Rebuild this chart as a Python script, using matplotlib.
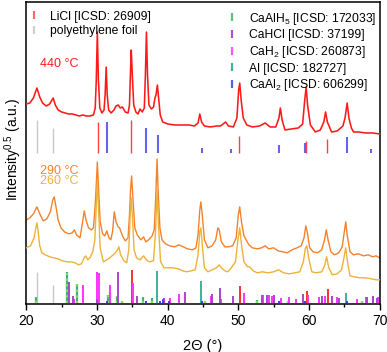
import matplotlib
matplotlib.use("Agg")
import matplotlib.pyplot as plt
from matplotlib.lines import Line2D

plt.rcParams['font.family'] = ['Liberation Sans', 'DejaVu Sans']
plt.rcParams['mathtext.fontset'] = 'custom'
plt.rcParams['mathtext.rm'] = 'Liberation Sans'
plt.rcParams['mathtext.it'] = 'Liberation Sans:italic'
plt.rcParams['mathtext.bf'] = 'Liberation Sans:bold'
plt.rcParams['mathtext.default'] = 'regular'

# ---------------- data ----------------
# 440 °C trace (2θ, intensity in arbitrary units)
tt_440 = [20.0, 20.5, 21.0, 21.5, 21.9, 22.3, 22.8, 23.3, 23.8, 24.1, 24.5, 25.0, 25.5, 26.0, 26.5,
          27.0, 27.5, 28.0, 28.5, 29.0, 29.5, 29.75, 29.9, 30.05, 30.2, 30.4, 30.7, 31.0, 31.15, 31.3,
          31.45, 31.65, 32.0, 32.4, 32.7, 33.0, 33.3, 33.6, 34.0, 34.4, 34.6, 34.75, 34.85, 35.0, 35.2,
          35.5, 35.8, 36.1, 36.4, 36.7, 36.85, 37.0, 37.15, 37.35, 37.7, 38.0, 38.2, 38.35, 38.55, 38.75,
          38.95, 39.3, 40.0, 41.0, 42.0, 43.0, 43.8, 44.3, 44.55, 44.8, 45.2, 46.0, 47.0, 47.5, 48.2,
          48.6, 49.3, 49.8, 50.05, 50.2, 50.4, 50.7, 51.2, 52.0, 53.0, 53.8, 54.5, 55.3, 55.75, 55.95,
          56.2, 56.6, 57.5, 58.5, 59.1, 59.4, 59.6, 59.8, 60.2, 60.9, 61.6, 62.1, 62.35, 62.6, 63.2,
          64.0, 64.8, 65.1, 65.4, 65.65, 66.0, 66.3, 67.0, 68.0, 69.0, 70.0]
py_440 = [104, 103, 98, 88, 97, 103, 106, 104, 98, 105, 110, 112, 113, 114, 114,
          115, 116, 115, 116, 116, 115, 108, 80, 32, 80, 108, 113, 110, 95, 67,
          95, 110, 113, 110, 106, 105, 108, 107, 112, 113, 105, 70, 50, 75, 105,
          112, 114, 109, 112, 108, 75, 32, 75, 105, 109, 107, 98, 95, 85, 100,
          115, 122, 124, 125, 125, 125, 126, 123, 114, 122, 126, 127, 126, 126, 122,
          126, 127, 118, 90, 83, 100, 118, 125, 127, 126, 123, 127, 127, 118, 108,
          120, 130, 129, 128, 124, 100, 87, 105, 125, 132, 130, 122, 112, 122, 132,
          131, 126, 118, 103, 118, 128, 132, 132, 133, 133, 134]

# 290 °C trace
tt_290 = [20.0, 20.5, 21.0, 21.5, 21.9, 22.4, 22.9, 23.4, 23.75, 23.95, 24.2, 24.5, 24.9, 25.4, 26.0,
          26.5, 26.8, 27.1, 27.6, 27.9, 28.2, 28.45, 28.8, 29.2, 29.5, 29.75, 29.9, 30.05, 30.2, 30.45,
          30.8, 31.1, 31.4, 31.7, 31.95, 32.2, 32.45, 32.7, 33.0, 33.2, 33.6, 34.0, 34.4, 34.6, 34.75,
          34.9, 35.1, 35.35, 35.7, 36.2, 36.6, 36.9, 37.3, 37.8, 38.1, 38.3, 38.5, 38.65, 38.9, 39.2,
          39.7, 40.3, 41.0, 41.6, 42.2, 42.8, 43.5, 44.0, 44.3, 44.55, 44.7, 44.9, 45.2, 45.7, 46.3,
          46.8, 47.1, 47.3, 47.6, 48.1, 48.6, 49.2, 49.7, 50.0, 50.2, 50.45, 50.8, 51.1, 51.5, 52.0,
          52.7, 53.3, 53.8, 54.3, 55.0, 55.6, 56.3, 56.9, 57.6, 58.3, 58.9, 59.3, 59.55, 59.75, 60.1,
          60.6, 61.2, 61.8, 62.2, 62.45, 62.7, 63.1, 63.6, 64.2, 64.7, 65.0, 65.2, 65.4, 65.8, 66.3,
          67.0, 67.7, 68.4, 69.0, 69.5, 70.0]
py_290 = [220, 218, 214, 207, 214, 221, 219, 212, 200, 197, 207, 220, 228, 232, 234,
          233, 230, 235, 238, 225, 211, 220, 228, 230, 228, 205, 185, 162, 185, 222,
          234, 236, 231, 238, 240, 232, 212, 222, 227, 228, 236, 241, 238, 215, 190,
          176, 200, 228, 235, 240, 237, 242, 240, 236, 230, 200, 159, 190, 228, 240,
          244, 246, 247, 245, 247, 249, 250, 248, 235, 210, 202, 215, 240, 248, 246,
          240, 228, 230, 242, 247, 247, 246, 238, 215, 207, 222, 236, 240, 245, 248,
          249, 248, 246, 249, 248, 251, 252, 253, 250, 248, 246, 238, 226, 232, 248,
          252, 253, 250, 240, 230, 240, 252, 255, 253, 247, 232, 222, 235, 252, 255,
          254, 256, 255, 257, 256, 258]

# 260 °C trace
tt_260 = [20.0, 20.6, 21.1, 21.35, 21.5, 21.65, 21.9, 22.2, 22.7, 23.3, 23.9, 24.5, 25.1, 25.7, 26.3,
          26.9, 27.4, 27.8, 28.2, 28.4, 28.7, 29.0, 29.4, 29.7, 29.9, 30.05, 30.2, 30.45, 30.9, 31.4,
          31.8, 32.3, 32.6, 32.9, 33.1, 33.35, 33.8, 34.2, 34.5, 34.7, 34.85, 35.0, 35.25, 35.6, 36.1,
          36.6, 37.0, 37.4, 38.0, 38.3, 38.5, 38.7, 39.0, 39.5, 40.1, 40.8, 41.5, 42.1, 42.7, 43.3,
          43.9, 44.3, 44.55, 44.7, 44.9, 45.2, 45.7, 46.3, 46.9, 47.3, 47.6, 48.1, 48.5, 48.9, 49.6,
          49.95, 50.2, 50.45, 50.8, 51.3, 51.6, 52.1, 52.7, 53.4, 54.2, 55.0, 55.7, 56.4, 57.2, 58.0,
          58.7, 59.2, 59.5, 59.7, 59.95, 60.4, 61.0, 61.8, 62.2, 62.5, 62.8, 63.3, 64.0, 64.6, 64.95,
          65.2, 65.45, 65.8, 66.4, 67.2, 68.0, 68.8, 69.5, 70.0]
py_260 = [248, 246, 238, 228, 223, 230, 246, 253, 255, 257, 258, 259, 261, 262, 262,
          263, 265, 264, 258, 256, 260, 258, 252, 240, 205, 181, 205, 248, 262, 260,
          258, 255, 253, 250, 247, 255, 261, 263, 250, 215, 198, 215, 250, 258, 260,
          256, 260, 262, 261, 230, 190, 225, 262, 268, 268, 268, 269, 271, 272, 271,
          270, 255, 232, 228, 245, 268, 272, 270, 268, 265, 268, 271, 272, 269, 262,
          240, 228, 245, 262, 267, 267, 271, 273, 272, 273, 272, 270, 273, 274, 273,
          272, 262, 248, 246, 258, 272, 273, 272, 266, 257, 268, 275, 274, 270, 258,
          248, 262, 276, 277, 278, 278, 279, 280, 280]

# reference patterns, upper set (above 440 °C) -- positions and tick heights
up_base = 151
up_pe_pos = [21.5, 23.8]
up_pe_h = [33, 25]
up_licl_pos = [30.1, 34.85, 50.15, 59.6, 62.6]
up_licl_h = [31, 33, 17, 12, 14]
up_caal2_pos = [31.4, 36.95, 38.65, 44.8, 49.0, 55.8, 59.45, 65.4, 68.75]
up_caal2_h = [31, 25, 18, 5, 4, 8, 10, 16, 4]

# reference patterns, lower set (at the bottom)
lo_pe_pos = [21.5, 23.8]
lo_pe_h = [32, 18]
lo_caalh5_pos = [21.3, 25.75, 27.2, 31.5, 31.8, 32.8, 33.6, 36.5, 37.8, 45.3, 52.7, 57.0, 67.5]
lo_caalh5_h = [6, 32, 19, 8, 11, 7, 2, 6, 5, 2, 3, 2, 2]
lo_cahcl_pos = [26.1, 26.6, 30.0, 32.95, 35.6, 39.5, 42.5, 46.3, 47.4, 49.3, 53.3, 54.0, 55.0,
                59.2, 61.9, 63.3, 64.2, 68.2, 69.1, 69.6]
lo_cahcl_h = [21, 7, 4, 32, 7, 5, 11, 9, 15, 7, 8, 8, 8, 9, 7, 7, 5, 6, 7, 5]
lo_cah2_pos = [26.8, 28.0, 30.0, 30.25, 31.9, 35.1, 39.3, 40.3, 41.6, 46.1, 47.6, 50.8, 53.5, 54.3,
               54.8, 56.1, 57.2, 58.1, 59.85, 61.4, 62.3, 63.9, 66.8, 68.0, 69.0, 69.8]
lo_cah2_h = [4, 18, 32, 31, 18, 20, 4, 5, 9, 7, 4, 10, 8, 8, 7, 5, 6, 4, 8, 6, 7, 6, 4, 6, 7, 6]
lo_al_pos = [38.5, 44.75, 65.2]
lo_al_h = [33, 23, 10]
lo_caal2_pos = [31.4, 36.95, 38.9, 39.4, 40.2, 44.8, 55.8, 59.45, 65.4]
lo_caal2_h = [2, 2, 2, 3, 2, 2, 2, 2, 2]
lo_licl_pos = [35.0, 50.3, 59.7, 62.7]
lo_licl_h = [34, 17, 12, 14]

x_ticks = [20, 30, 40, 50, 60, 70]

# ---------------- drawing ----------------
C_RED = '#ff1a1a'
C_ORANGE = '#f5822a'
C_YELLOW = '#eeb238'

fig = plt.figure(figsize=(3.87, 3.52), dpi=100)
ax = fig.add_axes([0.068, 0.137, 0.913, 0.857])

def to_y(py):
    return [304 - v for v in py]

ax.plot(tt_260, to_y(py_260), color=C_YELLOW, lw=1.0, zorder=3)
ax.plot(tt_290, to_y(py_290), color=C_ORANGE, lw=1.0, zorder=2)
ax.plot(tt_440, to_y(py_440), color=C_RED, lw=1.15, zorder=3)

def ticks(pos, h, base, color, lw=1.3, alpha=1.0, ls='-', z=2):
    ax.vlines(pos, base, [base + v for v in h], colors=color, lw=lw, alpha=alpha,
              linestyles=ls, zorder=z)

# upper set
ticks(up_pe_pos, up_pe_h, up_base, '#c8c8c8', lw=1.0)
ticks(up_licl_pos, up_licl_h, up_base, '#ff4040', lw=1.0)
ticks(up_caal2_pos, up_caal2_h, up_base, '#4a4ae6', lw=1.5, alpha=0.85)

# lower set
b0 = 0.3
ticks(lo_pe_pos, lo_pe_h, b0, '#c8c8c8', lw=1.0)
ticks(lo_licl_pos, lo_licl_h, b0, '#ff2020', lw=1.3)
ticks(lo_caalh5_pos, lo_caalh5_h, b0, '#2fb08f', lw=1.6)
ticks(lo_caalh5_pos, lo_caalh5_h, b0, '#8fd95a', lw=1.6, ls=(0, (1, 1.5)), z=3)
ticks(lo_cah2_pos, lo_cah2_h, b0, '#ff33ff', lw=1.4, z=3)
ticks(lo_cahcl_pos, lo_cahcl_h, b0, '#a945c9', lw=1.4, z=3)
ticks(lo_al_pos, lo_al_h, b0, '#3bb39a', lw=1.4, z=3)
ticks(lo_caal2_pos, lo_caal2_h, b0, '#3c3cf0', lw=1.4, z=4)

# temperature labels
ax.text(24.6, 304 - 64, '440 °C', color=C_RED, fontsize=9, ha='center', va='center')
ax.text(24.6, 304 - 171, '290 °C', color=C_ORANGE, fontsize=9, ha='center', va='center')
ax.text(24.6, 304 - 181.5, '260 °C', color=C_YELLOW, fontsize=9, ha='center', va='center')

# legends
def h(color):
    return Line2D([], [], color=color, marker='|', markersize=6, mew=1.6, linestyle='None')

leg_kw = dict(loc='upper left', frameon=False, fontsize=8.7, handlelength=0.9,
              handletextpad=0.95, labelspacing=0.22, borderaxespad=0.0, borderpad=0.15)
leg1 = ax.legend([h('#ff6a6a'), h('#cfcfcf')],
                 ['LiCl [ICSD: 26909]', 'polyethylene foil'],
                 bbox_to_anchor=(0.0, 0.978), **leg_kw)
ax.add_artist(leg1)
ax.legend([h('#5cc07a'), h('#b050d8'), h('#ff55ff'), h('#3cb59c'), h('#5a5af0')],
          ['CaAlH$_5$ [ICSD: 172033]', 'CaHCl [ICSD: 37199]', 'CaH$_2$ [ICSD: 260873]',
           'Al [ICSD: 182727]', 'CaAl$_2$ [ICSD: 606299]'],
          bbox_to_anchor=(0.561, 0.978), **leg_kw)

ax.set_xlim(20, 70)
ax.set_ylim(0, 302)
ax.set_xticks(x_ticks)
ax.set_xticks([25, 35, 45, 55, 65], minor=True)
ax.tick_params(axis='x', which='major', direction='out', length=4, width=1, labelsize=10)
ax.tick_params(axis='x', which='minor', direction='out', length=2, width=1)
ax.set_yticks([])
for s in ax.spines.values():
    s.set_linewidth(1.1)
ax.set_xlabel('2Θ (°)', fontsize=10.5, labelpad=8)
ax.set_ylabel('Intensity$^{0.5}$ (a.u.)', fontsize=10)
ax.yaxis.set_label_coords(-0.007, 0.51)

fig.savefig('out.png', dpi=100)
